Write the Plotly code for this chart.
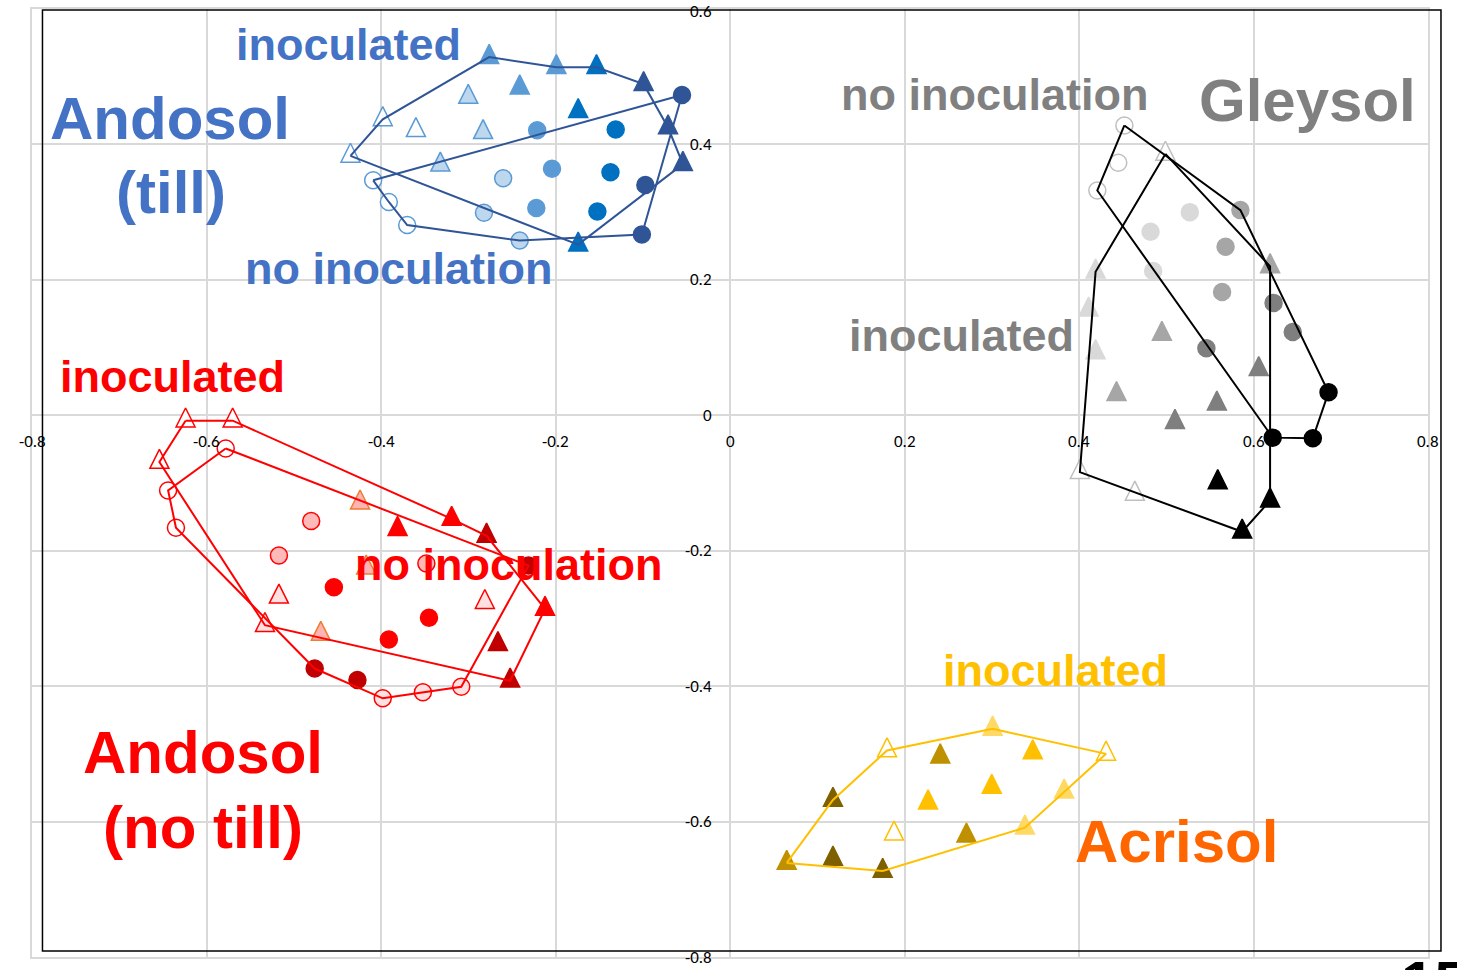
import plotly.graph_objects as go

# ---------------------------------------------------------------------------
# Ordination scores. Each series holds 5 treatment shades x 3 replicates,
# listed shade by shade (lightest / open first, darkest last).
# ---------------------------------------------------------------------------

# Andosol (till) - triangles = inoculated, circles = no inoculation
till_tri_x = [-0.398, -0.360, -0.435, -0.300, -0.283, -0.332, -0.276, -0.241,
              -0.199, -0.153, -0.174, -0.174, -0.099, -0.071, -0.054]
till_tri_y = [0.437, 0.421, 0.383, 0.470, 0.418, 0.370, 0.529, 0.484,
              0.514, 0.514, 0.449, 0.252, 0.489, 0.425, 0.371]
till_cir_x = [-0.409, -0.391, -0.370, -0.260, -0.282, -0.241, -0.221, -0.204,
              -0.222, -0.131, -0.137, -0.152, -0.055, -0.097, -0.101]
till_cir_y = [0.347, 0.315, 0.281, 0.350, 0.299, 0.258, 0.421, 0.364,
              0.306, 0.422, 0.359, 0.301, 0.473, 0.340, 0.267]
till_tri_hull = [2, 0, 6, 8, 9, 12, 13, 14, 11, 2]
till_cir_hull = [0, 12, 14, 5, 2, 1, 0]

# Gleysol - triangles = inoculated, circles = no inoculation
gley_tri_x = [0.499, 0.401, 0.464, 0.419, 0.411, 0.419, 0.619, 0.495,
              0.443, 0.606, 0.558, 0.510, 0.559, 0.619, 0.587]
gley_tri_y = [0.386, -0.084, -0.116, 0.212, 0.156, 0.093, 0.220, 0.120,
              0.031, 0.068, 0.017, -0.010, -0.099, -0.126, -0.172]
gley_cir_x = [0.452, 0.445, 0.421, 0.527, 0.482, 0.485, 0.585, 0.568,
              0.564, 0.623, 0.645, 0.546, 0.686, 0.622, 0.668]
gley_cir_y = [0.428, 0.373, 0.332, 0.300, 0.271, 0.213, 0.303, 0.249,
              0.182, 0.166, 0.123, 0.099, 0.034, -0.033, -0.034]
gley_tri_hull = [0, 6, 13, 14, 1, 3, 0]
gley_cir_hull = [0, 6, 12, 14, 13, 2, 0]

# Andosol (no till) - triangles = inoculated, circles = no inoculation
notill_tri_x = [-0.624, -0.570, -0.654, -0.517, -0.533, -0.281, -0.424, -0.469,
                -0.417, -0.381, -0.319, -0.212, -0.279, -0.266, -0.252]
notill_tri_y = [-0.008, -0.008, -0.069, -0.268, -0.310, -0.276, -0.129, -0.323,
                -0.225, -0.168, -0.153, -0.286, -0.178, -0.338, -0.392]
notill_cir_x = [-0.578, -0.644, -0.635, -0.398, -0.352, -0.308, -0.480, -0.517,
                -0.348, -0.454, -0.345, -0.391, -0.476, -0.427, -0.231]
notill_cir_y = [-0.049, -0.111, -0.166, -0.418, -0.409, -0.401, -0.156, -0.207,
                -0.219, -0.254, -0.299, -0.331, -0.374, -0.391, -0.222]
notill_tri_hull = [0, 1, 10, 12, 11, 14, 4, 2, 0]
notill_cir_hull = [0, 1, 2, 12, 3, 4, 5, 14, 0]

# Acrisol - inoculated only
acri_tri_x = [0.180, 0.431, 0.188, 0.301, 0.383, 0.338, 0.347, 0.300,
              0.227, 0.241, 0.271, 0.065, 0.118, 0.118, 0.175]
acri_tri_y = [-0.495, -0.500, -0.618, -0.463, -0.556, -0.609, -0.498, -0.549,
              -0.572, -0.504, -0.621, -0.661, -0.568, -0.655, -0.673]
acri_tri_hull = [11, 12, 0, 3, 1, 5, 14, 11]

# Axis ticks
x_ticks = [-0.8, -0.6, -0.4, -0.2, 0, 0.2, 0.4, 0.6, 0.8]
x_tick_text = ["-0.8", "-0.6", "-0.4", "-0.2", "0", "0.2", "0.4", "0.6", "0.8"]
y_ticks = [-0.8, -0.6, -0.4, -0.2, 0, 0.2, 0.4, 0.6]
y_tick_text = ["-0.8", "-0.6", "-0.4", "-0.2", "0", "0.2", "0.4", "0.6"]

# ---------------------------------------------------------------------------
# Styles: (fill, outline) per shade
# ---------------------------------------------------------------------------
BLUE = [("#FFFFFF", "#5B9BD5"), ("#BDD7EE", "#5B9BD5"), ("#5B9BD5", "#5B9BD5"),
        ("#0070C0", "#0070C0"), ("#2F5597", "#2F5597")]
GRAY = [("#FFFFFF", "#BFBFBF"), ("#D9D9D9", "#D9D9D9"), ("#A6A6A6", "#A6A6A6"),
        ("#7F7F7F", "#7F7F7F"), ("#000000", "#000000")]
RED_TRI = [("#FFFFFF", "#FF0000"), ("#FFE1E1", "#FF0000"), ("#FFB3B3", "#ED7D31"),
           ("#FF0000", "#FF0000"), ("#C00000", "#C00000")]
RED_CIR = [("#FFFFFF", "#FF0000"), ("#FFE1E1", "#FF0000"), ("#FFB9B9", "#FF0000"),
           ("#FF0000", "#FF0000"), ("#C00000", "#C00000")]
GOLD = [("#FFFFFF", "#FFC000"), ("#FFD966", "#FFD966"), ("#FFC000", "#FFC000"),
        ("#BF9000", "#BF9000"), ("#7F6000", "#7F6000")]

TRI_SIZE = 19
CIR_SIZE = 17

fig = go.Figure()


def add_markers(xs, ys, palette, shape):
    fills = [palette[i // 3][0] for i in range(len(xs))]
    lines = [palette[i // 3][1] for i in range(len(xs))]
    if shape == "tri":
        # equilateral-looking triangle centred on its centroid
        marker = dict(symbol="arrow-down", angle=180, size=TRI_SIZE,
                      standoff=TRI_SIZE * 2 / 3,
                      color=fills, line=dict(color=lines, width=1.5))
    else:
        marker = dict(symbol="circle", size=CIR_SIZE,
                      color=fills, line=dict(color=lines, width=1.5))
    fig.add_trace(go.Scatter(x=xs, y=ys, mode="markers", marker=marker,
                             hoverinfo="skip", showlegend=False))


def add_hull(xs, ys, order, color):
    fig.add_trace(go.Scatter(x=[xs[i] for i in order], y=[ys[i] for i in order],
                             mode="lines", line=dict(color=color, width=2),
                             hoverinfo="skip", showlegend=False))


add_markers(till_tri_x, till_tri_y, BLUE, "tri")
add_markers(till_cir_x, till_cir_y, BLUE, "cir")
add_hull(till_tri_x, till_tri_y, till_tri_hull, "#2F5597")
add_hull(till_cir_x, till_cir_y, till_cir_hull, "#2F5597")

add_markers(gley_cir_x, gley_cir_y, GRAY, "cir")
add_markers(gley_tri_x, gley_tri_y, GRAY, "tri")
add_hull(gley_tri_x, gley_tri_y, gley_tri_hull, "#000000")
add_hull(gley_cir_x, gley_cir_y, gley_cir_hull, "#000000")

add_markers(notill_tri_x, notill_tri_y, RED_TRI, "tri")
add_markers(notill_cir_x, notill_cir_y, RED_CIR, "cir")
add_hull(notill_tri_x, notill_tri_y, notill_tri_hull, "#FF0000")
add_hull(notill_cir_x, notill_cir_y, notill_cir_hull, "#FF0000")

add_markers(acri_tri_x, acri_tri_y, GOLD, "tri")
add_hull(acri_tri_x, acri_tri_y, acri_tri_hull, "#FFC000")

# ---------------------------------------------------------------------------
# Labels
# ---------------------------------------------------------------------------
LABEL_FONT = "Liberation Sans, Arial, sans-serif"
labels = [
    ("inoculated", -0.4375, 0.548, 45, "#4472C4"),
    ("Andosol", -0.6416, 0.4387, 60, "#4472C4"),
    ("(till)", -0.6405, 0.3294, 60, "#4472C4"),
    ("no inoculation", -0.3802, 0.2171, 45, "#4472C4"),
    ("no inoculation", 0.3028, 0.4742, 45, "#808080"),
    ("Gleysol", 0.6623, 0.4653, 60, "#808080"),
    ("inoculated", 0.2649, 0.1182, 45, "#808080"),
    ("inoculated", -0.6393, 0.0576, 45, "#FF0000"),
    ("no inoculation", -0.2540, -0.2201, 45, "#FF0000"),
    ("Andosol", -0.6044, -0.4978, 60, "#FF0000"),
    ("(no till)", -0.6044, -0.6086, 60, "#FF0000"),
    ("inoculated", 0.3727, -0.3767, 45, "#FFC000"),
    ("Acrisol", 0.5115, -0.6292, 60, "#FF6600"),
]
annotations = []
for text, x, y, size, color in labels:
    annotations.append(dict(text=text, x=x, y=y, xref="x", yref="y",
                            xanchor="center", yanchor="middle", showarrow=False,
                            font=dict(family=LABEL_FONT, size=size, color=color,
                                      weight="bold")))

TICK_FONT = dict(family="Carlito, Lato, sans-serif", size=17, color="#000000")
for v, t in zip(x_ticks, x_tick_text):
    annotations.append(dict(text=t, x=v, y=0, xref="x", yref="y",
                            xanchor="center", yanchor="middle", yshift=-26,
                            showarrow=False, font=TICK_FONT))
for v, t in zip(y_ticks, y_tick_text):
    annotations.append(dict(text=t, x=0, y=v, xref="x", yref="y",
                            xanchor="right", yanchor="middle", xshift=-16,
                            yshift=-2 if v == y_ticks[-1] else 0,
                            showarrow=False, font=TICK_FONT))

# page number at the bottom edge
annotations.append(dict(text="15", x=0.979, y=0.0105, xref="paper", yref="paper",
                        xanchor="left", yanchor="top", showarrow=False,
                        font=dict(family=LABEL_FONT, size=60, color="#000000",
                                  weight="bold")))

GRID = "#D9D9D9"
fig.update_layout(
    width=1457, height=970,
    margin=dict(l=32, r=29, t=9, b=13, autoexpand=False),
    paper_bgcolor="#FFFFFF", plot_bgcolor="#FFFFFF",
    showlegend=False,
    annotations=annotations,
    shapes=[dict(type="rect", xref="paper", yref="paper",
                 x0=0.0075, x1=1.0093, y0=0.0063, y1=0.9989,
                 line=dict(color="#000000", width=1.5))],
    xaxis=dict(range=[-0.8, 0.8], tickvals=x_ticks, showticklabels=False,
               showgrid=True, gridcolor=GRID, gridwidth=1.5,
               zeroline=True, zerolinecolor=GRID, zerolinewidth=1.5,
               showline=True, linecolor=GRID, linewidth=1.5, mirror=True,
               fixedrange=True),
    yaxis=dict(range=[-0.8, 0.6], tickvals=y_ticks, showticklabels=False,
               showgrid=True, gridcolor=GRID, gridwidth=1.5,
               zeroline=True, zerolinecolor=GRID, zerolinewidth=1.5,
               showline=True, linecolor=GRID, linewidth=1.5, mirror=True,
               fixedrange=True),
)

fig.write_html("out.html", config={"displayModeBar": False})
